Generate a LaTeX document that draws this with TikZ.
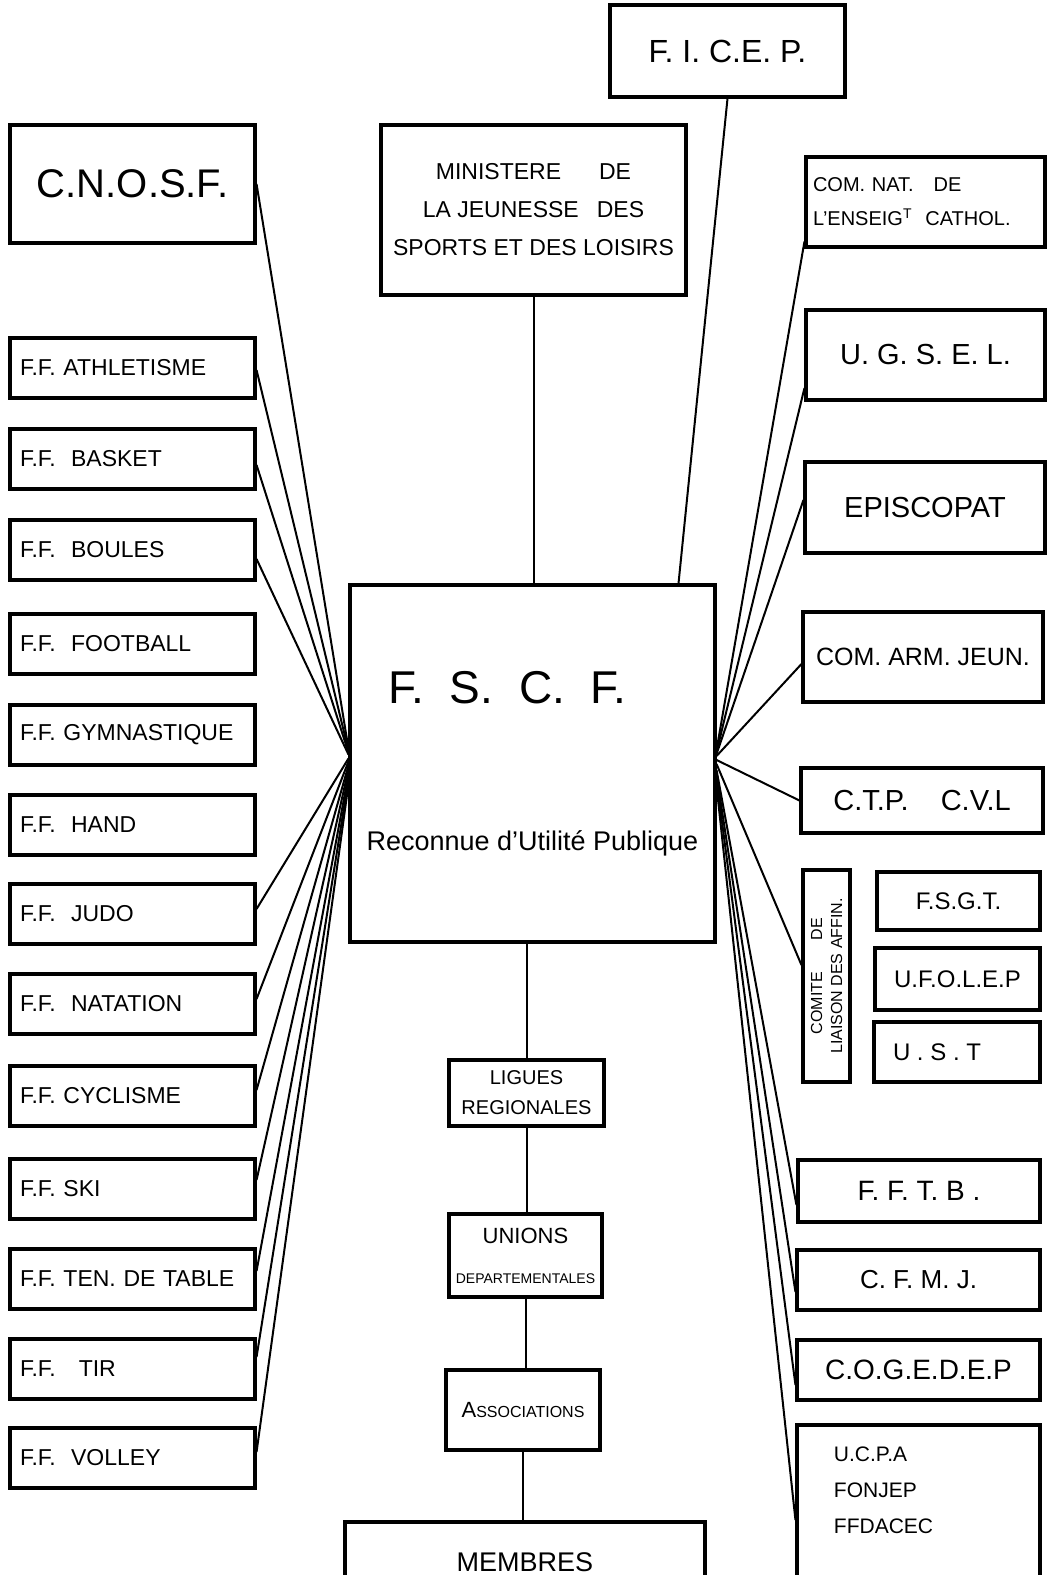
\documentclass[tikz,border=0pt]{standalone}
\usepackage{fontspec}
\setmainfont{Liberation Sans}
\begin{document}
\begin{tikzpicture}[x=1pt,y=-1pt,
  box/.style={draw, line width=3.1pt, inner sep=0pt, align=center},
  lbox/.style={box, minimum width=245pt, minimum height=60pt, text width=225pt, align=left, font=\fontsize{23}{27}\selectfont},
  rbox/.style={box, font=\fontsize{26}{30}\selectfont},
  link/.style={line width=2pt}]
\useasboundingbox (0,0) rectangle (1050,1575);
\clip (0,0) rectangle (1050,1575);

% top / centre column
\node[box, minimum width=235pt, minimum height=92pt, font=\fontsize{32}{36}\selectfont] (ficep) at (727.5,51) {F. I. C.E. P.};
\node[box, minimum width=245pt, minimum height=118pt, font=\fontsize{40}{44}\selectfont] (cnosf) at (132.5,184) {C.N.O.S.F.};
\node[box, minimum width=305pt, minimum height=170pt, font=\fontsize{23}{38}\selectfont] (min) at (533.5,210) {MINISTERE\hspace{38pt}DE\\LA JEUNESSE\hspace{18pt}DES\\SPORTS ET DES LOISIRS};
\node[box, minimum width=365pt, minimum height=357pt] (fscf) at (532.5,763.5)
  {\hspace*{-50pt}{\fontsize{46}{50}\selectfont F.\ \ S.\ \ C.\ \ F.}\\[126pt]{\fontsize{27}{31}\selectfont Reconnue d'Utilité Publique}};
\node[box, minimum width=155pt, minimum height=66pt, font=\fontsize{20}{30}\selectfont] (ligues) at (526.5,1093) {LIGUES\\REGIONALES};
\node[box, minimum width=153pt, minimum height=83pt, font=\fontsize{14}{40}\selectfont] (unions) at (525.5,1255.5) {{\fontsize{22}{24}\selectfont UNIONS}\\DEPARTEMENTALES};
\node[box, minimum width=154pt, minimum height=80pt, font=\fontsize{16}{19}\selectfont] (assoc) at (523,1410) {{\fontsize{22}{22}\selectfont A}SSOCIATIONS};
\node[box, minimum width=360pt, minimum height=80pt, font=\fontsize{27}{30}\selectfont] (membres) at (525,1562) {MEMBRES};

% left column
\node[lbox] (athl) at (132.5,368) {F.F. ATHLETISME};
\node[lbox] (basket) at (132.5,459) {F.F.\ \ BASKET};
\node[lbox] (boules) at (132.5,550) {F.F.\ \ BOULES};
\node[lbox] (foot) at (132.5,644) {F.F.\ \ FOOTBALL};
\node[lbox] (gym) at (132.5,735) {F.F. GYMNASTIQUE};
\node[lbox] (hand) at (132.5,825) {F.F.\ \ HAND};
\node[lbox] (judo) at (132.5,914) {F.F.\ \ JUDO};
\node[lbox] (nat) at (132.5,1004) {F.F.\ \ NATATION};
\node[lbox] (cycl) at (132.5,1096) {F.F.\ CYCLISME};
\node[lbox] (ski) at (132.5,1189) {F.F.\ SKI};
\node[lbox] (tt) at (132.5,1279) {F.F. TEN. DE TABLE};
\node[lbox] (tir) at (132.5,1369) {F.F.\ \ \ TIR};
\node[lbox] (volley) at (132.5,1458) {F.F.\ \ VOLLEY};

% right column
\node[box, minimum width=239pt, minimum height=90pt, text width=225pt, align=left, font=\fontsize{20}{34}\selectfont] (comnat) at (925.5,202) {COM. NAT.\ \ \ DE\\L'ENSEIG\textsuperscript{T}\ \ CATHOL.};
\node[rbox, minimum width=239pt, minimum height=90pt, font=\fontsize{29}{33}\selectfont] (ugsel) at (925.5,355) {U. G. S. E. L.};
\node[rbox, minimum width=240pt, minimum height=91pt, font=\fontsize{29}{33}\selectfont] (episc) at (925,507.5) {EPISCOPAT};
\node[rbox, minimum width=240pt, minimum height=90pt, font=\fontsize{25}{29}\selectfont] (comarm) at (923,657) {COM. ARM. JEUN.};
\node[rbox, minimum width=242pt, minimum height=65pt, font=\fontsize{29}{33}\selectfont] (ctp) at (922,800.5) {C.T.P.\ \ \ \ C.V.L};
\node[box, minimum width=212pt, minimum height=47pt, rotate=90, font=\fontsize{16}{20}\selectfont] (comite) at (826.5,976) {COMITE\qquad DE\\LIAISON DES AFFIN.};
\node[rbox, minimum width=163pt, minimum height=58pt, font=\fontsize{24}{28}\selectfont] (fsgt) at (958.5,901) {F.S.G.T.};
\node[rbox, minimum width=165pt, minimum height=62pt, font=\fontsize{24}{28}\selectfont] (ufolep) at (957.5,979) {U.F.O.L.E.P};
\node[rbox, minimum width=166pt, minimum height=60pt, font=\fontsize{24}{28}\selectfont] (ust) at (957,1052) {\hspace*{-40pt}U . S . T};
\node[rbox, minimum width=242pt, minimum height=62pt, font=\fontsize{28}{32}\selectfont] (fftb) at (919,1191) {F. F. T. B .};
\node[rbox, minimum width=243pt, minimum height=60pt] (cfmj) at (918.5,1280) {C. F. M. J.};
\node[rbox, minimum width=243pt, minimum height=60pt, font=\fontsize{28}{32}\selectfont] (coged) at (918.5,1370) {C.O.G.E.D.E.P};
\node[box, minimum width=243pt, minimum height=175pt,
  label={[anchor=north west, xshift=35pt, yshift=-20pt, align=left, font=\fontsize{21}{36}\selectfont]north west:U.C.P.A\\FONJEP\\FFDACEC}] (ucpa) at (918.5,1512.5) {};

% vertical chain
\draw[link] (min.south) -- (min.south |- fscf.north);
\draw[link] (ficep.south) -- ([xshift=146pt]fscf.north);
\draw[link] (ligues.north |- fscf.south) -- (ligues.north);
\draw[link] (ligues.south) -- (ligues.south |- unions.north);
\draw[link] (unions.south) -- (unions.south |- assoc.north);
\draw[link] (assoc.south) -- (assoc.south |- membres.north);

% left fan
\draw[link] (cnosf.east) -- ([yshift=15pt]fscf.west);
\draw[link] ([yshift=-2pt]athl.east) -- ([yshift=13pt]fscf.west);
\draw[link] ([yshift=-6pt]basket.east) -- ([yshift=11pt]fscf.west);
\draw[link] ([yshift=-9pt]boules.east) -- ([yshift=9pt]fscf.west);
\draw[link] ([yshift=5pt]judo.east) -- ([yshift=5pt]fscf.west);
\draw[link] ([yshift=5pt]nat.east) -- ([yshift=2pt]fscf.west);
\draw[link] ([yshift=6pt]cycl.east) -- ([yshift=-2pt]fscf.west);
\draw[link] ([yshift=9pt]ski.east) -- ([yshift=-6pt]fscf.west);
\draw[link] ([yshift=8pt]tt.east) -- ([yshift=-11pt]fscf.west);
\draw[link] ([yshift=12pt]tir.east) -- ([yshift=-16pt]fscf.west);
\draw[link] ([yshift=6pt]volley.east) -- ([yshift=-21pt]fscf.west);

% right fan
\draw[link] ([yshift=7pt]comnat.south west) -- ([yshift=13.5pt]fscf.east);
\draw[link] ([yshift=-33pt]ugsel.west) -- ([yshift=11.5pt]fscf.east);
\draw[link] ([yshift=7.5pt]episc.west) -- ([yshift=9.5pt]fscf.east);
\draw[link] ([yshift=-7pt]comarm.west) -- ([yshift=7.5pt]fscf.east);
\draw[link] (ctp.west) -- ([yshift=3.5pt]fscf.east);
\draw[link] ([yshift=11pt]comite.north) -- ([yshift=-0.5pt]fscf.east);
\draw[link] ([yshift=-14pt]fftb.west) -- ([yshift=-6.5pt]fscf.east);
\draw[link] ([yshift=-12pt]cfmj.west) -- ([yshift=-11.5pt]fscf.east);
\draw[link] ([yshift=-15pt]coged.west) -- ([yshift=-16.5pt]fscf.east);
\draw[link] ([yshift=-7.5pt]ucpa.west) -- ([yshift=-22.5pt]fscf.east);
\end{tikzpicture}
\end{document}
